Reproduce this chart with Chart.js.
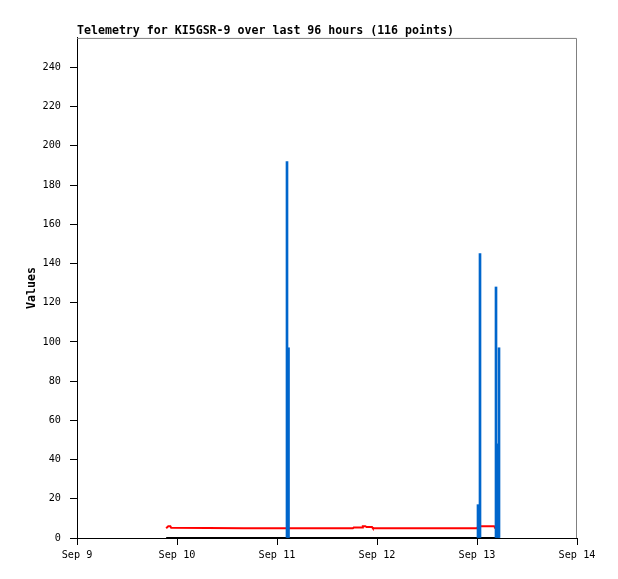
<!DOCTYPE html>
<html>
<head>
<meta charset="utf-8">
<script src="https://cdn.jsdelivr.net/npm/chart.js@4/dist/chart.umd.min.js"></script>
<style>
html,body{margin:0;padding:0;background:#fff;}
canvas{display:block;}
</style>
</head>
<body>
<canvas id="c" width="618" height="579"></canvas>
<script>
// Time axis: hours since Sep 9 00:00
const dayLabels = ["Sep 9", "Sep 10", "Sep 11", "Sep 12", "Sep 13", "Sep 14"];
const yTickMax = 240;

// Blue series (impulses)
const blueTimes  = [50.4, 50.76, 96.24, 96.72, 100.56, 100.92, 101.28];
const blueValues = [192, 97, 17, 145, 128, 48, 97];

// Red series
const redTimes  = [21.4, 21.9, 22.4, 22.6, 40, 60, 66.2, 66.4, 68.4, 68.6, 69.2, 69.5, 70.8, 71.0, 85, 96.0, 96.4, 100.1, 100.3, 100.8];
const redValues = [5,    6,    6,    5.2,  5,  5,  5,    5.3,  5.3,  6,    6,    5.6,  5.6,  5,    5,  5,    6,    6,     5.4,   5.4];

// Black series
const blackTimes  = [21.4, 40, 60, 80, 101.4];
const blackValues = [0, 0, 0, 0, 0];

const toXY = (xs, ys) => xs.map((x, i) => ({x: x, y: ys[i]}));

const frame = {
  id: 'frame',
  beforeDatasetsDraw(chart) {
    const {ctx, chartArea: a} = chart;
    ctx.save();
    ctx.strokeStyle = '#808080';
    ctx.lineWidth = 1;
    ctx.beginPath();
    ctx.moveTo(a.left, a.top + 0.5);
    ctx.lineTo(a.right - 0.5, a.top + 0.5);
    ctx.lineTo(a.right - 0.5, a.bottom);
    ctx.stroke();
    ctx.restore();
  }
};

const mono = "'DejaVu Sans Mono', 'Liberation Mono', monospace";

new Chart(document.getElementById('c'), {
  data: {
    datasets: [
      {type: 'bar', data: toXY(blueTimes, blueValues), backgroundColor: '#0066cc', borderWidth: 0, barThickness: 2, order: 1},
      {type: 'line', data: toXY(redTimes, redValues), borderColor: '#ff0000', borderWidth: 2, pointRadius: 0, tension: 0, order: 2},
      {type: 'line', data: toXY(blackTimes, blackValues), borderColor: '#000000', borderWidth: 2, pointRadius: 0, tension: 0, order: 3}
    ]
  },
  options: {
    responsive: false,
    animation: false,
    devicePixelRatio: 1,
    layout: {padding: {top: 0, right: 41, bottom: 0, left: 0}},
    plugins: {
      legend: {display: false},
      tooltip: {enabled: false},
      title: {
        display: true,
        text: 'Telemetry for KI5GSR-9 over last 96 hours (116 points)',
        align: 'start',
        fullSize: false,
        color: '#000',
        font: {family: mono, size: 11.6, weight: 'bold', lineHeight: 1.2},
        padding: {top: 24, bottom: 0}
      }
    },
    scales: {
      x: {
        type: 'linear',
        min: 0, max: 120,
        offset: false,
        afterFit(s) { s.height = 41; },
        border: {display: true, color: '#000', width: 1},
        grid: {display: true, offset: false, drawOnChartArea: false, drawTicks: true, tickLength: 7, color: '#000'},
        ticks: {
          stepSize: 24,
          color: '#000',
          padding: 4,
          maxRotation: 0,
          autoSkip: false,
          font: {family: mono, size: 10.2},
          callback: (v) => dayLabels[Math.round(v / 24)]
        }
      },
      y: {
        type: 'linear',
        min: 0, max: 255,
        afterFit(s) { s.width = 77; },
        border: {display: true, color: '#000', width: 1},
        grid: {display: true, drawOnChartArea: false, drawTicks: true, tickLength: 7, color: '#000'},
        ticks: {
          stepSize: 20,
          includeBounds: false,
          color: '#000',
          padding: 9,
          font: {family: mono, size: 10.2},
          callback: (v) => (v <= yTickMax ? String(v) : '')
        },
        title: {
          display: true,
          text: 'Values',
          color: '#000',
          font: {family: mono, size: 11.6, weight: 'bold', lineHeight: 1.2},
          padding: {top: 25, bottom: 0}
        }
      }
    }
  },
  plugins: [frame]
});
</script>
</body>
</html>
